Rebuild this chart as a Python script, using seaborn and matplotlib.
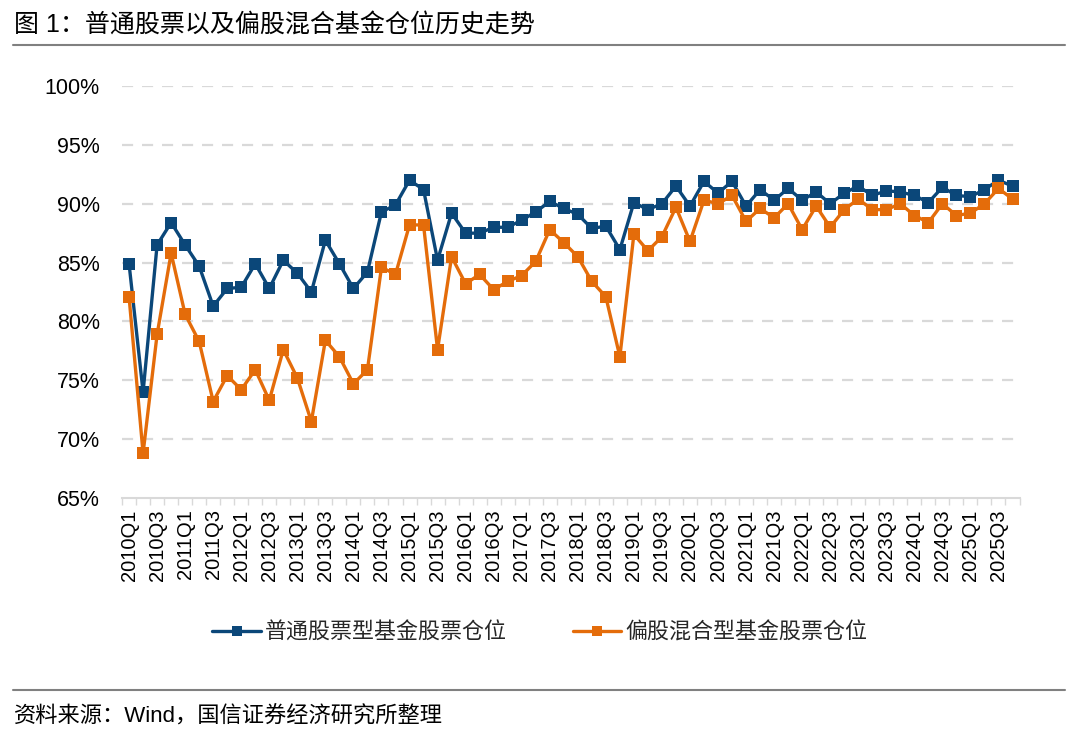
import numpy as np
import pandas as pd
import matplotlib
matplotlib.use('Agg')
import matplotlib.pyplot as plt
from matplotlib.lines import Line2D
from matplotlib.ticker import FuncFormatter
import seaborn as sns

# quarters 2010Q1 .. 2025Q4
quarters = [f'{y}Q{q}' for y in range(2010, 2026) for q in range(1, 5)]

# 普通股票型基金股票仓位 (%)
stock_fund = [84.9, 74.0, 86.5, 88.4, 86.5, 84.7, 81.3, 82.8, 82.9, 84.9, 82.8, 85.2,
              84.1, 82.5, 86.9, 84.9, 82.8, 84.2, 89.3, 89.9, 92.0, 91.2, 85.2, 89.2,
              87.5, 87.5, 88.0, 88.0, 88.6, 89.3, 90.2, 89.6, 89.1, 87.9, 88.1, 86.1,
              90.1, 89.5, 90.0, 91.5, 89.8, 91.9, 90.9, 91.9, 89.8, 91.2, 90.3, 91.3,
              90.3, 91.0, 90.0, 90.9, 91.5, 90.7, 91.1, 91.0, 90.7, 90.1, 91.4, 90.7,
              90.6, 91.2, 92.0, 91.5]

# 偏股混合型基金股票仓位 (%)
mixed_fund = [82.1, 68.8, 78.9, 85.8, 80.6, 78.3, 73.2, 75.4, 74.2, 75.9, 73.3, 77.6,
              75.2, 71.5, 78.4, 77.0, 74.7, 75.9, 84.6, 84.0, 88.2, 88.2, 77.6, 85.5,
              83.2, 84.0, 82.7, 83.4, 83.9, 85.1, 87.8, 86.7, 85.5, 83.4, 82.1, 77.0,
              87.4, 86.0, 87.2, 89.7, 86.8, 90.3, 90.0, 90.7, 88.5, 89.6, 88.8, 90.0,
              87.8, 89.8, 88.0, 89.5, 90.4, 89.5, 89.5, 90.0, 89.0, 88.4, 90.0, 89.0,
              89.2, 90.0, 91.3, 90.4]

series_names = ['普通股票型基金股票仓位', '偏股混合型基金股票仓位']
colors = ['#0B4779', '#E46C0A']

df = pd.DataFrame({
    'quarter': quarters * 2,
    'value': stock_fund + mixed_fund,
    'series': [series_names[0]] * len(quarters) + [series_names[1]] * len(quarters),
})
df['pos'] = df['quarter'].map({q: i for i, q in enumerate(quarters)})

sns.set_theme(style='white')
plt.rcParams['font.family'] = ['Liberation Sans', 'Noto Sans CJK SC']
plt.rcParams['axes.unicode_minus'] = False

fig = plt.figure(figsize=(10.8, 7.46), dpi=100)
ax = fig.add_axes([0.113, 0.3324, 0.831, 0.5523])

sns.lineplot(data=df, x='pos', y='value', hue='series', style='series',
             palette=colors, markers=['s', 's'], dashes=False,
             linewidth=2.4, markersize=9, markeredgewidth=0, ax=ax)

ax.set_ylim(65, 100)
ax.set_yticks(np.arange(65, 101, 5))
ax.yaxis.set_major_formatter(FuncFormatter(lambda v, p: f'{v:.0f}%'))
ax.set_xlim(-0.5, len(quarters) - 0.5)
ax.set_xticks(range(0, len(quarters), 2))
ax.set_xticklabels(quarters[::2], rotation=90)
ax.set_xticks(np.arange(-0.5, len(quarters), 1), minor=True)
ax.tick_params(axis='x', which='major', length=0, pad=8, labelsize=14.5, colors='black')
ax.tick_params(axis='x', which='minor', length=5, width=1, color='#D9D9D9', bottom=True)
ax.tick_params(axis='y', length=0, pad=16, labelsize=15.5, colors='black')
ax.set_xlabel('')
ax.set_ylabel('')

for v in range(70, 101, 5):
    ax.axhline(v, color='#D9D9D9', lw=1.6, ls=(0, (5, 4)), zorder=0)

for s in ['top', 'right', 'left']:
    ax.spines[s].set_visible(False)
ax.spines['bottom'].set_color('#D9D9D9')
ax.spines['bottom'].set_linewidth(1.5)

ax.get_legend().remove()
handles = [Line2D([0], [0], color=c, lw=2.4, marker='s', markersize=7.5, markeredgewidth=0)
           for c in colors]
fig.legend(handles, series_names, loc='center', bbox_to_anchor=(0.5, 0.152),
           ncol=2, frameon=False, fontsize=15.8, handlelength=2.2, handletextpad=0.2,
           columnspacing=3.0)

fig.text(0.013, 0.967, '图 1：普通股票以及偏股混合基金仓位历史走势', fontsize=18,
         va='center', ha='left', color='black')
fig.add_artist(Line2D([0.012, 0.986], [0.94, 0.94], color='#808080', lw=1.5))
fig.add_artist(Line2D([0.012, 0.986], [0.075, 0.075], color='#808080', lw=1.5))
fig.text(0.013, 0.039, '资料来源：Wind，国信证券经济研究所整理', fontsize=16,
         va='center', ha='left', color='black')

fig.savefig('out.png', dpi=100)
